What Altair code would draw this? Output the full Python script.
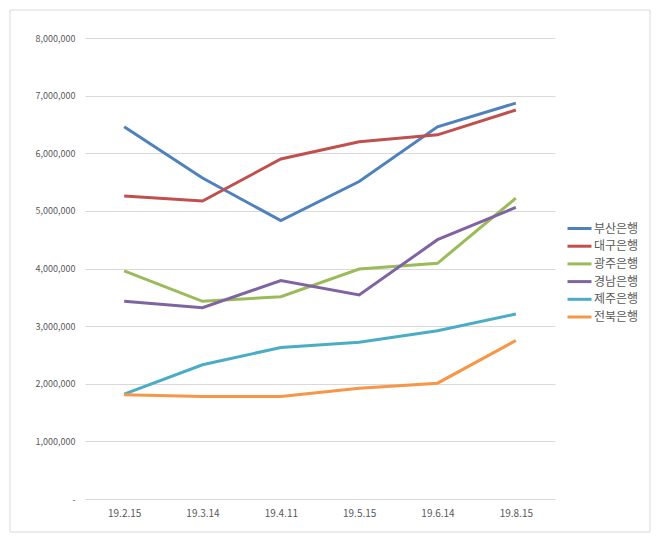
import altair as alt
import pandas as pd

dates = ["19.2.15", "19.3.14", "19.4.11", "19.5.15", "19.6.14", "19.8.15"]
banks = ["부산은행", "대구은행", "광주은행", "경남은행", "제주은행", "전북은행"]
colors = ["#4F81BD", "#C0504D", "#9BBB59", "#8064A2", "#4BACC6", "#F79646"]

busan = [6460000, 5570000, 4830000, 5510000, 6460000, 6870000]
daegu = [5260000, 5170000, 5900000, 6200000, 6320000, 6750000]
gwangju = [3960000, 3430000, 3510000, 3990000, 4090000, 5220000]
gyeongnam = [3430000, 3320000, 3790000, 3540000, 4500000, 5060000]
jeju = [1820000, 2330000, 2630000, 2720000, 2920000, 3210000]
jeonbuk = [1810000, 1780000, 1780000, 1920000, 2010000, 2750000]

series = [busan, daegu, gwangju, gyeongnam, jeju, jeonbuk]
rows = []
for b, vals in zip(banks, series):
    for d, v in zip(dates, vals):
        rows.append({"date": d, "bank": b, "value": v})
df = pd.DataFrame(rows)

FONT = "Noto Sans CJK KR"

lines = alt.Chart(df).mark_line(strokeWidth=3).encode(
    x=alt.X("date:N", sort=dates, title=None,
            scale=alt.Scale(type="point", padding=0.5),
            axis=alt.Axis(labelAngle=0, ticks=False, domain=False, grid=False,
                          labelFontSize=10, labelColor="#595959", labelPadding=9)),
    y=alt.Y("value:Q", title=None,
            scale=alt.Scale(domain=[0, 8000000]),
            axis=alt.Axis(values=[0, 1000000, 2000000, 3000000, 4000000, 5000000, 6000000, 7000000, 8000000],
                          labelExpr="datum.value == 0 ? '-  ' : format(datum.value, ',')",
                          ticks=False, domain=False, gridColor="#d9d9d9",
                          labelFontSize=9, labelColor="#595959", labelPadding=10)),
    color=alt.Color("bank:N", sort=banks, scale=alt.Scale(domain=banks, range=colors),
                    legend=alt.Legend(title=None, orient="none", legendX=487, legendY=183,
                                      symbolType="M-2,0H2", symbolStrokeWidth=3, symbolSize=144,
                                      labelFontSize=12, labelColor="#595959", rowPadding=3.7,
                                      labelOffset=7)),
    detail="bank:N",
)

border = alt.Chart(pd.DataFrame({"a": [0]})).mark_rect(
    fill=None, stroke="#d9d9d9", strokeWidth=1
).encode(
    x=alt.value(-75), x2=alt.value(565), y=alt.value(-28), y2=alt.value(494)
)

chart = alt.layer(border, lines).properties(
    width=470, height=461,
    autosize=alt.AutoSizeParams(type="none"),
    padding={"left": 77, "top": 30, "right": 97, "bottom": 35},
    background="white",
).configure(font=FONT).configure_view(stroke=None)

chart.save("out.html", embed_options={"renderer": "svg", "actions": False})
